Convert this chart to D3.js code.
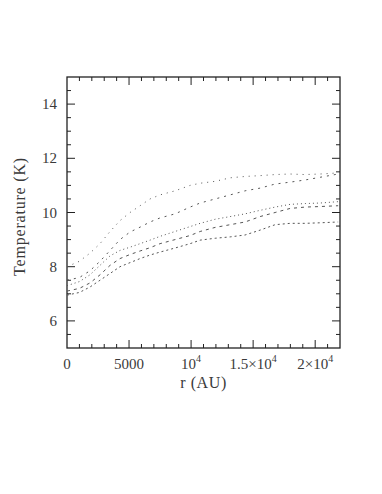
<!DOCTYPE html>
<html>
<head>
<meta charset="utf-8">
<script src="https://cdn.jsdelivr.net/npm/d3@7"></script>
<style>
  body { margin: 0; background: #fff; }
  text { font-family: "Liberation Serif", "DejaVu Serif", serif; fill: #3a3a3a; }
</style>
</head>
<body>
<div id="chart"></div>
<script>
// radius samples (AU)
var radius = [0, 1000, 1850, 2660, 3470, 4270, 5080, 5890, 6690, 7500, 8710, 9920,
  10730, 11940, 13150, 14350, 15560, 16770, 17980, 19190, 20400, 21850];

// temperature (K) of the five runs, top to bottom
var tempA = [8.0, 8.2, 8.5, 8.85, 9.3, 9.7, 10.0, 10.25, 10.5, 10.65, 10.8, 11.0,
  11.08, 11.15, 11.28, 11.33, 11.36, 11.4, 11.42, 11.4, 11.42, 11.46];
var tempB = [7.5, 7.6, 7.85, 8.2, 8.6, 9.0, 9.28, 9.46, 9.65, 9.8, 9.95, 10.2,
  10.35, 10.5, 10.65, 10.8, 10.9, 11.05, 11.12, 11.2, 11.3, 11.42];
var tempC = [7.3, 7.45, 7.7, 8.05, 8.4, 8.6, 8.72, 8.85, 8.98, 9.12, 9.3, 9.48,
  9.6, 9.75, 9.85, 9.95, 10.08, 10.2, 10.3, 10.33, 10.35, 10.4];
var tempD = [7.1, 7.2, 7.4, 7.7, 8.05, 8.3, 8.45, 8.58, 8.7, 8.85, 9.0, 9.15,
  9.3, 9.45, 9.55, 9.65, 9.85, 10.0, 10.15, 10.2, 10.22, 10.25];
var tempE = [6.95, 7.05, 7.25, 7.5, 7.75, 8.0, 8.15, 8.3, 8.43, 8.54, 8.69, 8.85,
  8.98, 9.05, 9.1, 9.17, 9.35, 9.55, 9.6, 9.6, 9.62, 9.65];

var xTicks = [0, 5000, 10000, 15000, 20000];
var xTickLabels = ["0", "5000", "10^4", "1.5×10^4", "2×10^4"];
var yTicks = [6, 8, 10, 12, 14];
var yTickLabels = ["6", "8", "10", "12", "14"];

var series = [
  { name: "A", values: tempA, dash: "1,5" },
  { name: "B", values: tempB, dash: "2,5" },
  { name: "C", values: tempC, dash: "1,3" },
  { name: "D", values: tempD, dash: "3,4" },
  { name: "E", values: tempE, dash: "2,3" }
];

var W = 382, H = 494;
var plotLeft = 67, plotTop = 77, plotRight = 340, plotBottom = 348;

var svg = d3.select("#chart").append("svg")
  .attr("width", W).attr("height", H);

var x = d3.scaleLinear().domain([0, 22000]).range([plotLeft, plotRight]);
var y = d3.scaleLinear().domain([5, 15]).range([plotBottom, plotTop]);

// frame
svg.append("rect")
  .attr("x", plotLeft).attr("y", plotTop)
  .attr("width", plotRight - plotLeft).attr("height", plotBottom - plotTop)
  .attr("fill", "none").attr("stroke", "#222").attr("stroke-width", 1.3);

// minor + major ticks on all four sides
var xMinor = d3.range(1000, 22000, 1000);
xMinor.forEach(function(v) {
  var len = v % 5000 === 0 ? 8 : 4;
  svg.append("line").attr("x1", x(v)).attr("x2", x(v))
    .attr("y1", plotBottom).attr("y2", plotBottom - len).attr("stroke", "#222");
  svg.append("line").attr("x1", x(v)).attr("x2", x(v))
    .attr("y1", plotTop).attr("y2", plotTop + len).attr("stroke", "#222");
});
var yMinor = d3.range(5.5, 15, 0.5);
yMinor.forEach(function(v) {
  var len = (v % 2 === 0) ? 8 : 4;
  svg.append("line").attr("x1", plotLeft).attr("x2", plotLeft + len)
    .attr("y1", y(v)).attr("y2", y(v)).attr("stroke", "#222");
  svg.append("line").attr("x1", plotRight).attr("x2", plotRight - len)
    .attr("y1", y(v)).attr("y2", y(v)).attr("stroke", "#222");
});

// tick labels
function addLabel(sel, str) {
  var parts = str.split("^");
  sel.append("tspan").text(parts[0]);
  if (parts.length > 1) {
    sel.append("tspan").attr("dy", -7).attr("font-size", 10).text(parts[1]);
  }
}
xTicks.forEach(function(v, i) {
  var t = svg.append("text")
    .attr("x", x(v)).attr("y", 369)
    .attr("text-anchor", "middle").attr("font-size", 15);
  addLabel(t, xTickLabels[i]);
});
yTicks.forEach(function(v, i) {
  svg.append("text")
    .attr("x", 57).attr("y", y(v) + 5)
    .attr("text-anchor", "end").attr("font-size", 15)
    .text(yTickLabels[i]);
});

// axis titles
svg.append("text")
  .attr("x", (plotLeft + plotRight) / 2).attr("y", 388)
  .attr("text-anchor", "middle").attr("font-size", 16)
  .attr("letter-spacing", 0.6)
  .text("r (AU)");
svg.append("text")
  .attr("transform", "translate(25," + ((plotTop + plotBottom) / 2 + 4) + ") rotate(-90)")
  .attr("text-anchor", "middle").attr("font-size", 16)
  .attr("letter-spacing", 0.8)
  .text("Temperature (K)");

// curves
var line = d3.line()
  .x(function(d, i) { return x(radius[i]); })
  .y(function(d) { return y(d); });

svg.selectAll("path.run")
  .data(series)
  .enter()
  .append("path")
    .attr("class", "run")
    .attr("d", function(s) { return line(s.values); })
    .attr("fill", "none")
    .attr("stroke", "#555")
    .attr("stroke-width", 1)
    .attr("stroke-dasharray", function(s) { return s.dash; });
</script>
</body>
</html>
